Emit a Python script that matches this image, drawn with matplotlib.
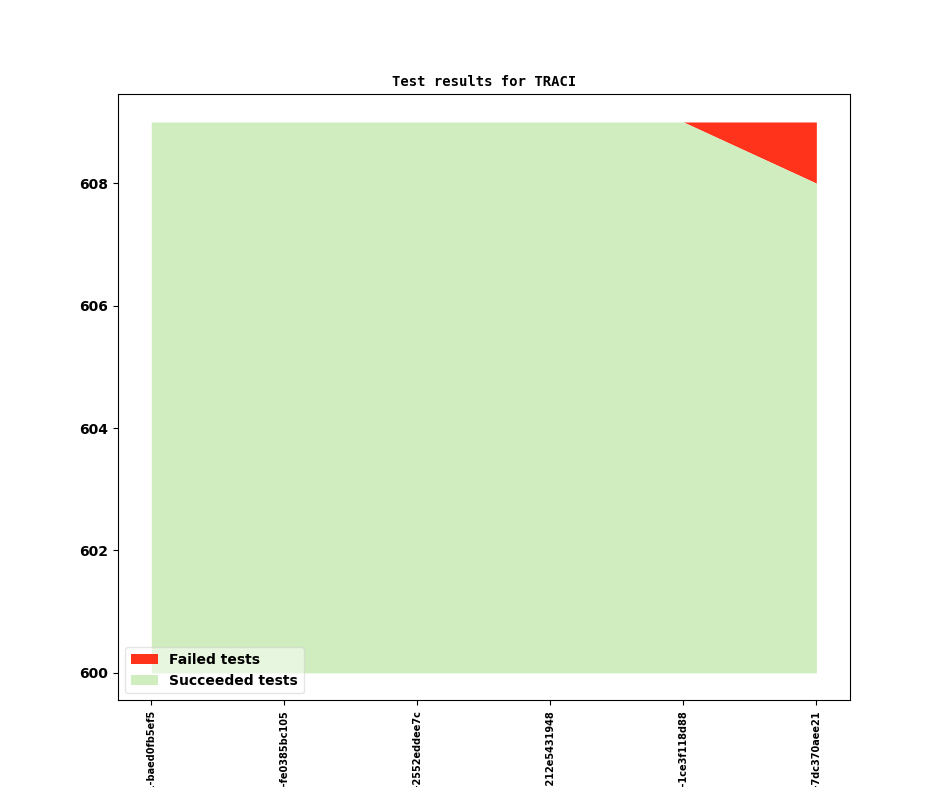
import numpy as np
import matplotlib
matplotlib.use('Agg')
import matplotlib.pyplot as plt


commits   = ['v1_2_0+0611-baed0fb5ef5',
             'v1_2_0+0618-fe0385bc105',
             'v1_2_0+0624-2552eddee7c',
             'v1_2_0+0631-212e5431948',
             'v1_2_0+0637-1ce3f118d88',
             'v1_2_0+0642-7dc370aee21']
succeeded = [609, 609, 609, 609, 609, 608]
failed    = [0, 0, 0, 0, 0, 1]
baseline  = 600



def plot_results():
    x = np.arange(len(commits))
    succ = np.array(succeeded)
    fail = np.array(failed)

    fig = plt.figure(figsize = (9.44, 7.87), dpi = 100)
    ax = fig.add_subplot(111)

    ax.fill_between(x, succ, succ + fail, color = '#ff331c', linewidth = 0, label = 'Failed tests')
    ax.fill_between(x, baseline, succ, color = '#cfedbf', linewidth = 0, label = 'Succeeded tests')

    ax.set_title('Test results for TRACI', fontsize = 10, fontweight = 'bold', family = 'DejaVu Sans Mono')
    ax.set_xticks(x)
    ax.set_xticklabels(commits, rotation = 90, fontsize = 7, fontweight = 'bold')
    for label in ax.get_yticklabels():
        label.set_fontweight('bold')
        label.set_fontsize(10)

    ax.legend(loc = 'lower left', framealpha = 0.5, prop = {'weight': 'bold', 'size': 10})

    fig.savefig('out.png', format = 'png')
    plt.close(fig)



if __name__ == "__main__":
    plot_results()
